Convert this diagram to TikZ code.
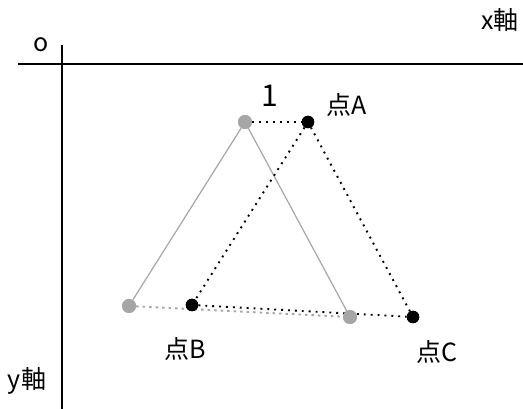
\documentclass[tikz,border=0pt]{standalone}
\usepackage{fontspec}
\setmainfont{Noto Sans CJK JP}
\begin{document}
\begin{tikzpicture}[x=1pt,y=-1pt,
  axis/.style={line width=2.8pt,black},
  gdot/.style={circle,fill=black!35,inner sep=0pt,minimum size=14pt},
  bdot/.style={circle,fill=black,inner sep=0pt,minimum size=12.5pt},
  gline/.style={black!35,line width=1.2pt},
  gdotted/.style={black!35,line width=1.9pt,dash pattern=on 2.5pt off 4pt},
  bdotted/.style={black,line width=1.9pt,dash pattern=on 1.9pt off 5pt},
  lbl/.style={font=\fontsize{25}{29}\selectfont,inner sep=0pt}]
\useasboundingbox (0,0) rectangle (523,409);
\coordinate (hl) at (18,64);
\coordinate (hr) at (523,64);
\coordinate (vt) at (62,45);
\coordinate (vb) at (62,409);
\draw[axis] (hl) -- (hr);
\draw[axis] (vt) -- (vb);
\node[lbl] (o) at (41,45) {o};
\node[lbl] (xl) at (500,20) {x軸};
\node[lbl] (yl) at (27,381) {y軸};
\node[gdot] (g1) at (245,122) {};
\node[gdot] (g2) at (129,306) {};
\node[gdot] (g3) at (350,317) {};
\draw[gline] (g1) -- (g2);
\draw[gline] (g1) -- (g3);
\draw[gdotted] (g2) -- (g3);
\node[bdot] (a) at (308,122) {};
\node[bdot] (b) at (192,305) {};
\node[bdot] (c) at (413,317) {};
\draw[bdotted] (g1) -- (a);
\draw[bdotted] (a) -- (b);
\draw[bdotted] (b) -- (c);
\draw[bdotted] (c) -- (a);
\node[gdot] at (245,122) {};
\node[gdot] at (129,306) {};
\node[gdot] at (350,317) {};
\node[bdot] at (308,122) {};
\node[bdot] at (192,305) {};
\node[bdot] at (413,317) {};
\node[lbl,font=\fontsize{30}{34}\selectfont] (one) at (270,96) {1};
\node[lbl] (la) at (347,105) {点A};
\node[lbl] (lb) at (185,349) {点B};
\node[lbl] (lc) at (437,352) {点C};
\end{tikzpicture}
\end{document}
